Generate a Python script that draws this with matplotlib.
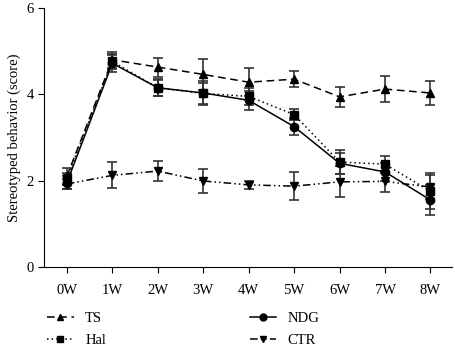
import numpy as np
import matplotlib
matplotlib.use('Agg')
import matplotlib.pyplot as plt
from matplotlib.lines import Line2D

plt.rcParams['font.family'] = ['Liberation Serif', 'DejaVu Serif']

weeks = ['0W', '1W', '2W', '3W', '4W', '5W', '6W', '7W', '8W']

ts = [2.10, 4.80, 4.63, 4.46, 4.28, 4.35, 3.94, 4.12, 4.03]
ts_err = [0.20, 0.18, 0.22, 0.35, 0.32, 0.18, 0.23, 0.30, 0.27]
ndg = [1.95, 4.72, 4.15, 4.03, 3.86, 3.25, 2.40, 2.20, 1.55]
ndg_err = [0.15, 0.20, 0.18, 0.27, 0.22, 0.20, 0.25, 0.20, 0.35]
hal = [2.05, 4.76, 4.15, 4.02, 3.95, 3.53, 2.43, 2.38, 1.75]
hal_err = [0.12, 0.18, 0.20, 0.25, 0.20, 0.12, 0.28, 0.20, 0.42]
ctr = [1.92, 2.12, 2.22, 1.99, 1.90, 1.87, 1.97, 1.98, 1.85]
ctr_err = [0.12, 0.30, 0.23, 0.28, 0.10, 0.32, 0.36, 0.25, 0.28]

x = np.arange(len(weeks))

fig = plt.figure(figsize=(4.55, 3.47), dpi=100)
ax = fig.add_axes([0.097, 0.231, 0.896, 0.746])

series = [
    ('TS', ts, ts_err, '^', (0, (5, 3))),
    ('Hal', hal, hal_err, 's', (0, (1, 2))),
    ('NDG', ndg, ndg_err, 'o', '-'),
    ('CTR', ctr, ctr_err, 'v', (0, (5, 2, 1, 2, 1, 2))),
]

handles = []
for name, y, e, m, ls in series:
    ax.errorbar(x, y, yerr=e, color='black', ecolor='#333333',
                marker=m, markersize=6, linestyle=ls, linewidth=1.1,
                elinewidth=1.2, capsize=3.5, capthick=1.2, label=name)
    handles.append(Line2D([], [], color='black', marker=m, markersize=5,
                          linestyle=ls, linewidth=1.1))

ax.set_xlim(-0.5, 8.47)
ax.set_ylim(0, 6)
ax.set_yticks([0, 2, 4, 6])
ax.set_xticks(x)
ax.set_xticklabels(weeks)
ax.set_ylabel('Stereotyped behavior (score)', fontsize=10.5)
ax.tick_params(labelsize=10.5, direction='out', length=4)
ax.tick_params(axis='x', pad=8)
for s in ['top', 'right']:
    ax.spines[s].set_visible(False)

fig.legend(handles=handles, labels=[s[0] for s in series], ncol=2,
           loc='lower left', bbox_to_anchor=(0.075, -0.037), frameon=False,
           fontsize=10.5, handlelength=1.8, handletextpad=0.8,
           columnspacing=9.85, labelspacing=0.55)

fig.savefig('out.png', dpi=100)
